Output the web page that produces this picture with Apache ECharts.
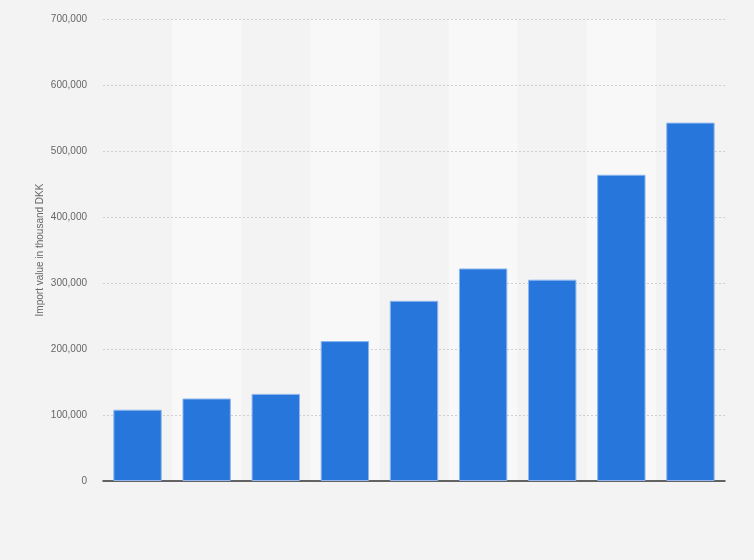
<html>
<head>
    <meta charset="UTF-8">
    <title>Import value</title>
    <script src="https://cdn.jsdelivr.net/npm/echarts@6/dist/echarts.min.js"></script>
    <style>
        html, body { margin: 0; padding: 0; background: #f3f3f3; }
        #container { width: 754px; height: 560px; }
    </style>
</head>
<body>
<div id="container"></div>
<script>
    // values (thousand DKK); the years are not shown
    var categories = ['1', '2', '3', '4', '5', '6', '7', '8', '9'];
    var values = [108000, 125000, 132000, 212000, 273000, 322000, 305000, 464000, 543000];
    var yTicks = [0, 100000, 200000, 300000, 400000, 500000, 600000, 700000];

    var mycharts = echarts.init(document.getElementById('container'));

    var option = {
        backgroundColor: '#f3f3f3',
        animation: false,
        grid: { left: 103, right: 29, top: 19, bottom: 79, containLabel: false },
        xAxis: {
            type: 'category',
            data: categories,
            z: 0,
            axisLine: { lineStyle: { color: '#333', width: 1.5 } },
            axisTick: { show: false },
            axisLabel: { show: false },
            splitArea: { show: true, areaStyle: { color: ['rgba(0,0,0,0)', '#f8f8f8'] } }
        },
        yAxis: {
            type: 'value',
            min: yTicks[0],
            max: yTicks[yTicks.length - 1],
            interval: 100000,
            z: 1,
            name: 'Import value in thousand DKK',
            nameLocation: 'middle',
            nameGap: 58,
            nameMoveOverlap: false,
            nameTextStyle: { color: '#666', fontSize: 10, fontFamily: 'Arial, Liberation Sans' },
            axisLine: { show: false },
            axisTick: { show: false },
            axisLabel: {
                color: '#666',
                fontSize: 10,
                margin: 16,
                fontFamily: 'Arial, Liberation Sans',
                formatter: function (v) { return v.toLocaleString('en-US'); }
            },
            splitLine: { showMinLine: false, lineStyle: { color: '#cfcfcf', type: [2, 2] } }
        },
        series: [{
            type: 'bar',
            data: values,
            barCategoryGap: '30%',
            z: 2,
            itemStyle: { color: '#2776db', borderColor: '#8fb6ee', borderWidth: 1 }
        }]
    };
    mycharts.setOption(option);
</script>
</body>
</html>
